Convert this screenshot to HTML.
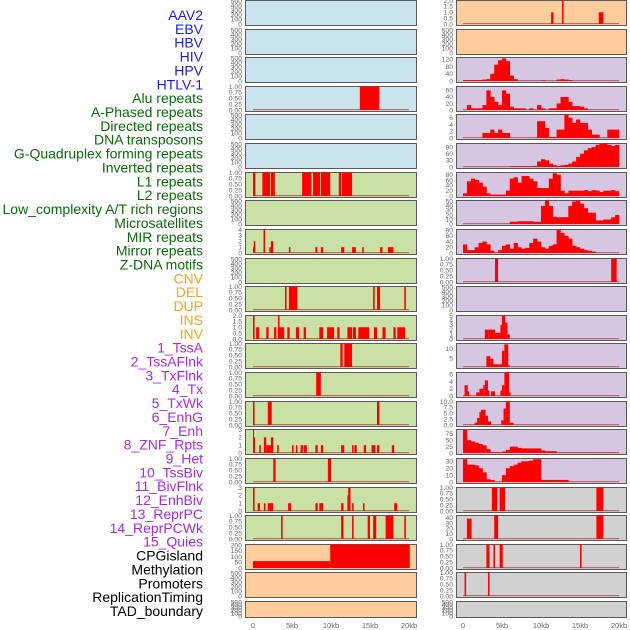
<!DOCTYPE html>
<html><head><meta charset="utf-8"><style>
html,body{margin:0;padding:0;background:#fff;width:630px;height:630px;overflow:hidden}
svg{display:block}
</style></head><body>
<svg id="chart" width="630" height="630" xmlns="http://www.w3.org/2000/svg"></svg>
<script>
// ---------- labels ----------
const labelTexts = ["AAV2","EBV","HBV","HIV","HPV","HTLV-1","Alu repeats","A-Phased repeats","Directed repeats","DNA transposons","G-Quadruplex forming repeats","Inverted repeats","L1 repeats","L2 repeats","Low_complexity A/T rich regions","Microsatellites","MIR repeats","Mirror repeats","Z-DNA motifs","CNV","DEL","DUP","INS","INV","1_TssA","2_TssAFlnk","3_TxFlnk","4_Tx","5_TxWk","6_EnhG","7_Enh","8_ZNF_Rpts","9_Het","10_TssBiv","11_BivFlnk","12_EnhBiv","13_ReprPC","14_ReprPCWk","15_Quies","CPGisland","Methylation","Promoters","ReplicationTiming","TAD_boundary"];
const labelColors = ["#1a1aff","#1a1aff","#1a1aff","#1a1aff","#1a1aff","#1a1aff","#0b6b0b","#0b6b0b","#0b6b0b","#0b6b0b","#0b6b0b","#0b6b0b","#0b6b0b","#0b6b0b","#0b6b0b","#0b6b0b","#0b6b0b","#0b6b0b","#0b6b0b","#ffa31a","#ffa31a","#ffa31a","#ffa31a","#ffa31a","#a52af0","#a52af0","#a52af0","#a52af0","#a52af0","#a52af0","#a52af0","#a52af0","#a52af0","#a52af0","#a52af0","#a52af0","#a52af0","#a52af0","#a52af0","#000","#000","#000","#000","#000"];

// ---------- x axis ----------
const xTickKb = [0,5,10,15,20];
const xTickLabels = ["0","5kb","10kb","15kb","20kb"];

// ---------- tick label sets ----------
const t500 = ["0","100","200","300","400","500"];
const t1 = ["0.00","0.25","0.50","0.75","1.00"];
const t2 = ["0.0","0.5","1.0","1.5","2.0"];
const t3 = ["0","1","2","3"];
const t4 = ["0","1","2","3","4"];

// ---------- segment data [startKb, endKb, value] ----------
const L_none = [];
const L_alu = [[13.7,16.2,1]];
const L_l1 = [[0,0.3,1],[1.2,2.2,1],[2.3,2.8,1],[6.3,7.5,1],[7.7,8.6,1],[8.7,9.9,1],[11,11.3,1],[11.4,12.7,1]];
const L_mir = [[0,0.15,1],[0.1,0.3,2],[1.35,1.55,4],[2.1,2.3,1],[2.3,2.6,2],[4.6,4.8,1],[8,8.25,1],[8.7,9,1],[11.3,11.7,1],[12.7,13.2,1],[14,14.2,1],[16.3,16.6,1],[17.3,18,1]];
const L_del = [[4.1,4.3,1],[4.6,5.7,1],[15.4,15.6,1],[15.9,16.3,1],[19.4,19.6,1]];
const L_ins = [[0,0.2,2],[0.4,0.8,1],[1.7,2,1],[2.7,3,1],[3.2,3.4,2],[3.4,4,1],[4.4,4.7,1],[5.5,5.9,1],[6.5,6.8,1],[8.5,9,1],[9.5,10.4,1],[10.8,11.1,1],[12.1,12.7,1],[12.8,13.2,1],[13.5,14.9,1],[15.5,15.9,1],[16.6,17,1],[18,18.3,1],[18.5,19.5,1]];
const L_tssa = [[11.2,11.5,1],[11.7,12.7,1]];
const L_txflnk = [[8.1,8.7,1]];
const L_txwk = [[0,0.2,1],[1.9,2.4,1],[15.9,16.2,1]];
const L_enh = [[0,0.12,3],[0.12,0.25,2],[0.8,1,1],[1.4,1.7,2],[1.7,2.3,1],[2.3,2.6,2],[3.1,3.3,1],[5,5.2,1],[5.5,5.7,1],[6.1,6.4,1],[6.5,6.9,1],[8,8.3,1],[8.7,9,1],[11.3,11.7,1],[12.7,12.9,1],[13,13.3,1],[14.2,14.5,1],[15.2,15.7,1],[15.9,16.2,1],[17.8,18.1,1]];
const L_tssbiv = [[2.6,2.9,1],[9.6,10,1]];
const L_bivflnk = [[0,0.2,3],[0.6,0.9,1],[1.4,1.6,1],[1.9,2.6,1],[4.5,4.9,1],[8,8.3,1],[8.5,9,1],[11.3,11.6,1],[12.1,12.2,2],[12.2,12.5,3],[12.7,12.9,1],[14.1,14.3,1],[18.1,18.5,1]];
const L_reprpc = [[3.6,3.8,1],[11.3,11.6,1],[12.7,12.9,1],[14.7,15,1],[15.4,15.8,1],[17,18,1],[19.4,19.6,1]];
const L_cpg = [[0,9.9,60],[9.9,20.1,205]];
const R_aav2 = [[11.3,11.6,1],[12.7,12.9,2],[17.4,18,1]];
const R_zdna = [[4.1,4.5,1],[19,19.7,1]];
const R_r11 = [[2.8,3.3,2],[3.3,4.1,2],[4.1,4.8,1.3],[4.8,5.0,3],[5.0,5.4,5],[5.4,5.7,3.5],[5.7,6.0,1]];
const R_r12 = [[3.0,3.5,6],[3.5,3.9,4.5],[3.9,5.0,1.5],[5.0,5.3,9],[5.3,5.8,12.5],[5.8,6.0,1]];
const R_r13 = [[0.2,0.6,3],[0.6,0.8,1.3],[1.7,2.1,1],[2.1,2.6,2],[2.6,2.8,3],[2.8,3.2,4.3],[3.2,3.4,1.5],[3.6,4.1,1.3],[4.8,5.0,1.5],[5.0,5.3,3],[5.3,5.9,6.5],[5.9,6.1,1]];
const R_r14 = [[1.5,1.8,1],[1.8,2.1,3],[2.1,2.3,5.5],[2.3,2.9,6.5],[2.9,3.2,4],[3.2,3.6,1.5],[4.9,5.2,2],[5.2,5.5,7],[5.5,6.0,10],[6.0,6.5,1]];
const R_r17 = [[3.7,4.4,1],[4.7,5.4,1],[17.1,18,1]];
const R_r18 = [[0.5,1.1,38],[4,4.5,45],[17.1,18,45]];
const R_r19 = [[3.0,3.4,1],[3.9,4.1,1],[4.7,5.1,1],[15.0,15.2,1]];
const R_r20 = [[0.2,0.4,1],[3.2,3.4,1]];

// ---------- profile data (0.5 kb bins, 0..20kb) ----------
const P_hiv = [5,5,5,5,5,8,10,40,90,115,125,110,30,10,0,0,0,0,0,0,3,0,0,0,8,10,8,5,0,0,0,0,0,0,0,0,0,0,0,0];
const P_alu = [0,15,5,5,5,15,60,40,25,15,60,50,10,5,5,5,0,5,0,15,5,0,5,5,20,40,40,25,12,12,10,5,0,0,0,0,0,0,0,0];
const P_dir = [0,0,0,0,0,1.5,1.5,2.5,1.5,2.5,1.5,1.5,0,0,0,0,0,0,0,5,5,3,0.3,0.3,2.5,2.5,7,6,4.5,5.5,4.5,4.5,2.5,1,1,0,0,2.5,2.5,2.5];
const P_gq = [0,0,0,0,0,0,0,0,0,0,0,0,3,3,3,3,3,3,5,25,35,30,15,8,5,8,10,15,25,45,60,75,85,90,100,105,105,100,95,100];
const P_inv = [10,55,65,60,50,35,10,5,5,5,5,20,65,70,50,75,75,65,55,30,30,30,65,85,80,20,10,20,20,20,20,22,18,22,20,15,20,20,22,18];
const P_low = [0,0,0,0,0,0,0,0,0,0,0,0,5,5,6,6,6,6,5,5,40,52,40,16,15,15,15,40,50,52,45,35,25,25,8,8,10,10,15,20];
const P_micro = [30,10,10,20,35,40,30,8,0,10,25,30,15,35,20,15,18,35,50,40,20,15,25,30,80,70,60,50,25,20,15,10,8,5,0,0,0,0,0,0];
const P_znf = [90,50,45,40,35,30,15,3,3,3,6,12,25,25,20,18,18,18,18,18,10,7,7,7,1,1,1,1,1,1,1,1,1,1,1,1,1,1,1,1];
const P_het = [33,25,25,24,20,14,4,3,0,0,10,20,23,25,28,30,30,31,33,33,3,3,3,3,3,3,3,0,0,0,0,0,0,0,0,0,0,0,0,0];

const BG_BLUE="#c9e4ec", BG_GREEN="#c9e1a4", BG_PEACH="#ffcd9c", BG_PURPLE="#d7c6e2", BG_GRAY="#d1d1d1";

// [col,row,bg,ymax,ticks,segs,profile]
const panels = [
 [0,0,BG_BLUE,500,t500,L_none,null],[0,1,BG_BLUE,500,t500,L_none,null],[0,2,BG_BLUE,500,t500,L_none,null],
 [0,3,BG_BLUE,1,t1,L_alu,null],[0,4,BG_BLUE,500,t500,L_none,null],[0,5,BG_BLUE,500,t500,L_none,null],
 [0,6,BG_GREEN,1,t1,L_l1,null],[0,7,BG_GREEN,500,t500,L_none,null],[0,8,BG_GREEN,4,t4,L_mir,null],
 [0,9,BG_GREEN,500,t500,L_none,null],[0,10,BG_GREEN,1,t1,L_del,null],[0,11,BG_GREEN,2,t2,L_ins,null],
 [0,12,BG_GREEN,1,t1,L_tssa,null],[0,13,BG_GREEN,1,t1,L_txflnk,null],[0,14,BG_GREEN,1,t1,L_txwk,null],
 [0,15,BG_GREEN,3,t3,L_enh,null],[0,16,BG_GREEN,1,t1,L_tssbiv,null],[0,17,BG_GREEN,3,t3,L_bivflnk,null],
 [0,18,BG_GREEN,1,t1,L_reprpc,null],[0,19,BG_PEACH,205,["0","50","100","150","200"],L_cpg,null],
 [0,20,BG_PEACH,500,t500,L_none,null],[0,21,BG_PEACH,500,t500,L_none,null],
 [1,0,BG_PEACH,2,t2,R_aav2,null],[1,1,BG_PEACH,500,t500,L_none,null],
 [1,2,BG_PURPLE,130,["0","40","80","120"],L_none,P_hiv],[1,3,BG_PURPLE,72,["0","20","40","60"],L_none,P_alu],
 [1,4,BG_PURPLE,7,["0","2","4","6"],L_none,P_dir],[1,5,BG_PURPLE,106,["0","30","60","90"],L_none,P_gq],
 [1,6,BG_PURPLE,88,["0","20","40","60","80"],L_none,P_inv],[1,7,BG_PURPLE,52,["0","10","20","30","40","50"],L_none,P_low],
 [1,8,BG_PURPLE,82,["0","20","40","60","80"],L_none,P_micro],[1,9,BG_PURPLE,1,t1,R_zdna,null],
 [1,10,BG_PURPLE,500,t500,L_none,null],[1,11,BG_PURPLE,5,["0","1","2","3","4","5"],R_r11,null],
 [1,12,BG_PURPLE,13,["5","10"],R_r12,null],[1,13,BG_PURPLE,6.5,["0","2","4","6"],R_r13,null],
 [1,14,BG_PURPLE,10,["0.0","2.5","5.0","7.5","10.0"],R_r14,null],[1,15,BG_PURPLE,92,["0","25","50","75"],L_none,P_znf],
 [1,16,BG_PURPLE,34,["0","10","20","30"],L_none,P_het],[1,17,BG_GRAY,1,t1,R_r17,null],
 [1,18,BG_GRAY,44,["0","10","20","30","40"],R_r18,null],[1,19,BG_GRAY,1,t1,R_r19,null],
 [1,20,BG_GRAY,1,t1,R_r20,null],[1,21,BG_GRAY,500,t500,L_none,null]
];

const NS="http://www.w3.org/2000/svg";
const svg=document.getElementById('chart');
function mk(tag,attrs,parent){const e=document.createElementNS(NS,tag);for(const k in attrs)e.setAttribute(k,attrs[k]);(parent||svg).appendChild(e);return e;}

labelTexts.forEach((t,i)=>{
  const e=mk('text',{x:203,y:15+i*13.86+5,'text-anchor':'end','font-family':'Liberation Sans, sans-serif','font-size':'14',fill:labelColors[i]});
  e.textContent=t;
  
  
});

const colX=[245,456], colW=[171,170], x0=[253,463], pxPerKb=7.8;
function xs(col,kb){return x0[col]+kb*pxPerKb;}
function rowTop(r){return Math.round(r*28.62);}
function rowH(r){return r===21?16:25;}

panels.forEach(p=>{
  const [col,row,bg,ymax,ticks,segs,prof]=p;
  const top=rowTop(row), h=rowH(row), bottom=top+h-1;
  const g=mk('g',{});
  
  
  const r=mk('rect',{x:colX[col]+0.5,y:top+0.5,width:colW[col],height:h,fill:bg,stroke:'#5a5a5a','stroke-width':1},g);
  
  
  function ys(v){return bottom-(v/ymax)*(h-1.5);}
  const n=ticks.length;
  ticks.forEach((tl,i)=>{
    let v = parseFloat(tl);
    let yy;
    if(ymax===500) yy = bottom - i*(h-2)/(n-1);
    else yy = ys(v);
    const e=mk('text',{x:colX[col]-3,y:yy+2.3,'text-anchor':'end','font-family':'Liberation Sans, sans-serif','font-size':'6.8',fill:'#666'},g);
    e.textContent=tl;
    
    
  });
  if(ymax!==500){
    const bl=mk('rect',{x:xs(col,0),y:bottom-1,width:20*pxPerKb,height:1.2,fill:'#b04040',opacity:0.7},g);
    
    
  }
  segs.forEach(s=>{
    const b=mk('rect',{x:xs(col,s[0]),y:ys(s[2]),width:Math.max(1,(s[1]-s[0])*pxPerKb),height:bottom-ys(s[2]),fill:'#ff0000'},g);
    
    
  });
  if(prof){
    prof.forEach((v,i)=>{
      if(v<=0) return;
      const b=mk('rect',{x:xs(col,i*0.5),y:ys(v),width:0.5*pxPerKb+0.3,height:bottom-ys(v),fill:'#ff0000'},g);
      
      
    });
  }
});

[0,1].forEach(col=>{
  xTickKb.forEach((kb,i)=>{
    const e=mk('text',{x:xs(col,kb),y:628,'text-anchor':'middle','font-family':'Liberation Sans, sans-serif','font-size':'7.5',fill:'#666'});
    e.textContent=xTickLabels[i];
    
    
  });
});
</script>
</body></html>
